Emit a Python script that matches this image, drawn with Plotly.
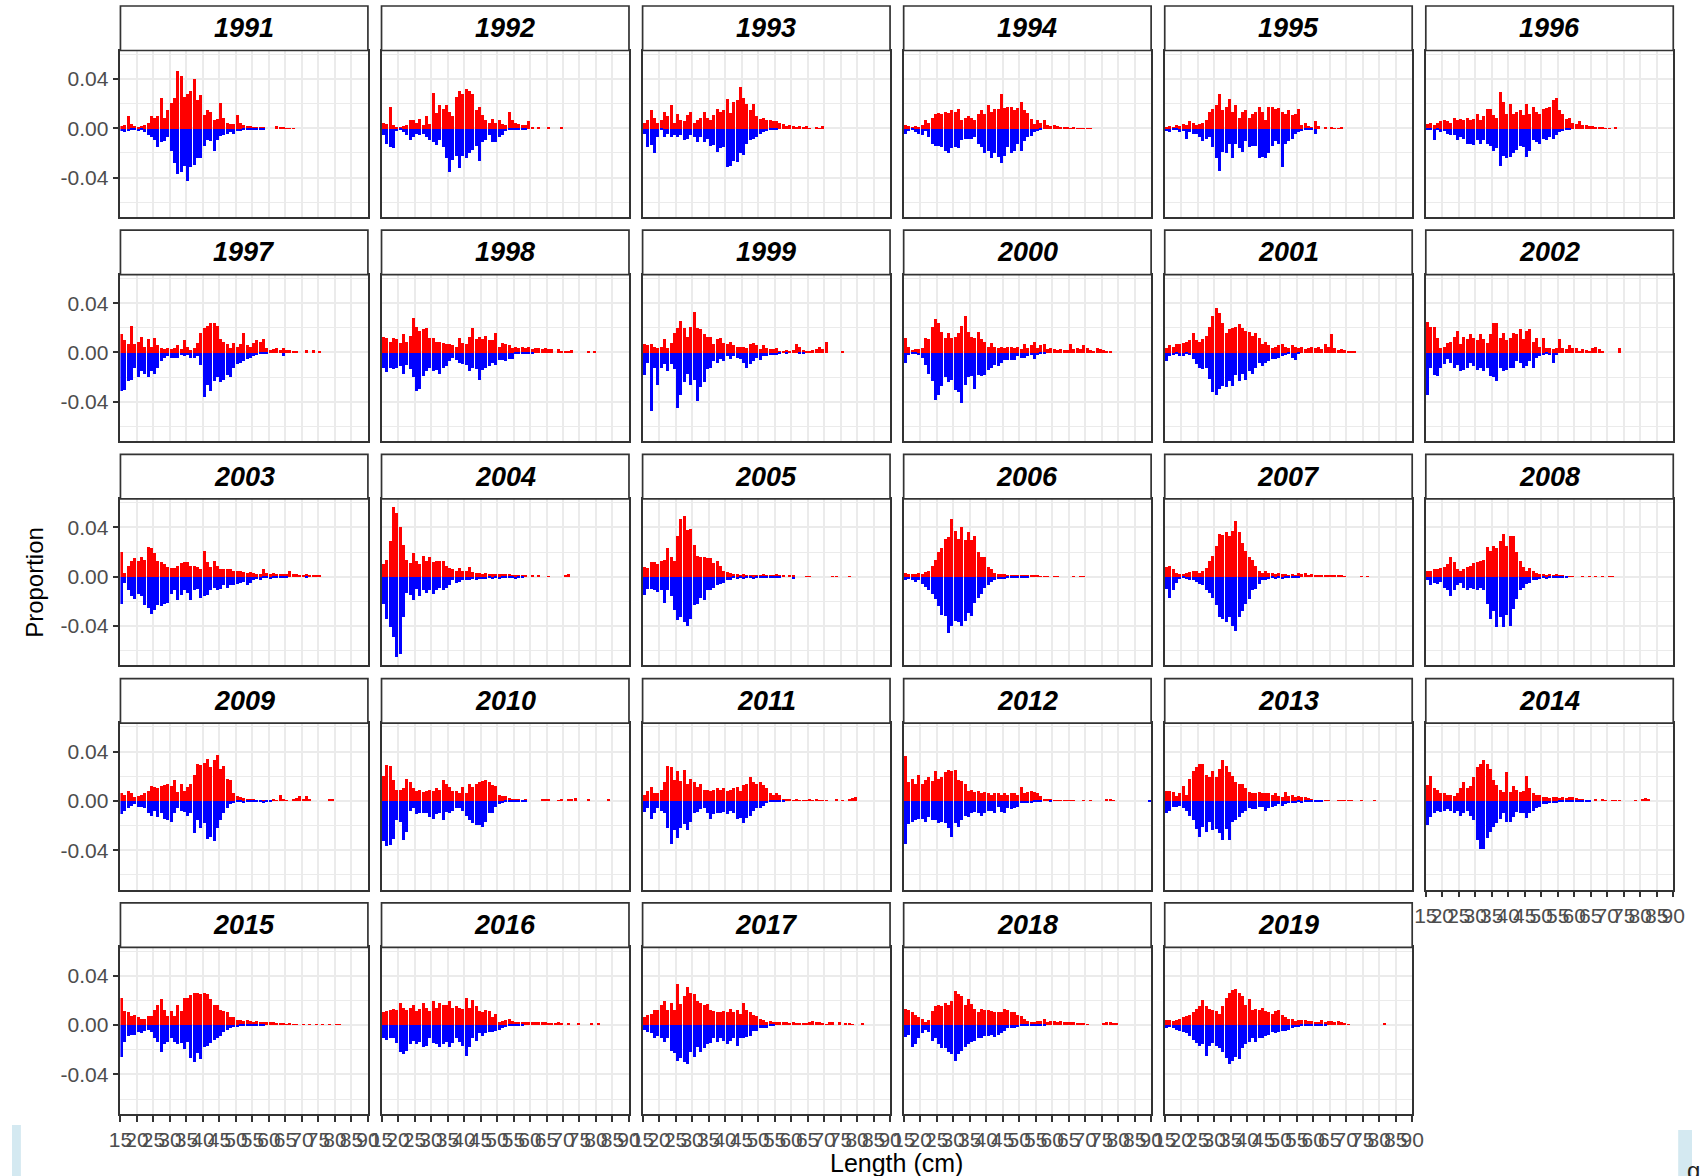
import plotly.graph_objects as go

# proportion at length (x 1000). red = upper bars, blue = lower bars (drawn negative)
# every list starts at the 15 cm bin and steps 1 cm
red_1991 = [2,3,10,4,2,1,2,3,5,10,9,10,25,9,15,21,25,47,43,26,28,31,40,23,27,11,15,14,7,8,21,9,5,4,4,11,5,3,2,2,1,1,1,1,0,0,0,2,1,1,0.5,0.5,0.5]
blue_1991 = [2,3,2,1,1,2,1,3,5,7,9,15,11,10,7,18,28,37,35,30,42,31,29,24,24,14,9,10,18,9,6,5,4,3,4,2,2,1,1,1,1,0.5,0.5,0.5]
red_1992 = [5,4,18,3,1,1,2,3,7,7,5,8,3,10,4,29,13,19,16,19,14,10,26,31,28,32,31,28,15,18,11,7,5,8,5,7,4,3,14,7,5,4,3,3,6,1,0,1,0,0,1,0,0,0,1]
blue_1992 = [5,12,15,16,2,1,3,5,9,7,4,5,4,7,9,11,13,9,15,24,35,25,22,32,22,24,20,17,14,26,11,9,5,11,11,7,5,2,1,1,1,1,0.5,0.5]
red_1993 = [5,7,15,9,5,7,14,10,19,5,12,7,6,11,14,5,7,9,14,9,7,11,16,14,15,24,13,22,23,34,25,20,15,20,10,8,9,7,7,6,6,5,4,2,3,2,1,2,1,2,0.5,0,1,0.5,2]
blue_1993 = [4,15,13,20,7,1,7,4,7,5,7,5,9,8,5,7,11,7,11,8,14,13,19,16,15,31,30,26,27,20,21,12,9,8,7,4,3,2,1,1,0.5]
red_1994 = [3,2,1,2,1,3,7,5,9,12,13,12,14,13,15,14,16,7,9,10,9,7,12,15,12,19,14,16,16,28,17,18,18,15,17,22,15,13,8,4,7,5,7,3,2,3,2,1,1,1,0.5,1,0.5,0.5,0.5,0.5,0.5]
blue_1994 = [4,2,1,3,4,5,2,7,12,14,14,15,18,20,16,15,16,9,8,8,8,7,12,15,20,18,24,20,23,28,22,15,20,18,12,18,10,7,6,3,2,1]
red_1995 = [1,2,1,3,2,4,3,6,5,3,4,5,7,14,16,19,28,15,18,24,14,19,9,14,15,9,12,14,18,14,7,18,18,16,17,14,12,15,11,12,16,3,5,2,1,6,2,0,1,0,1,0.5,0.5,1]
blue_1995 = [2,3,1,1,3,2,8,3,4,4,7,10,8,7,15,24,34,19,20,12,24,12,16,19,10,15,14,14,24,23,24,20,14,10,12,31,12,10,8,4,3,2,1,1,1,4]
red_1996 = [4,5,3,5,6,7,6,5,9,7,8,7,9,7,8,12,7,10,16,16,11,9,30,22,12,20,12,14,15,11,20,12,18,14,12,16,17,18,23,25,15,12,8,9,5,4,6,3,3,2,2,1,1,1,0.5,0.5,0,1]
blue_1996 = [1,1,9,1,3,2,4,5,5,9,7,8,12,12,13,9,12,9,12,14,18,16,30,22,24,23,20,17,14,15,23,18,9,11,12,8,9,7,8,5,3,2,1,1]
red_1997 = [15,10,7,22,7,9,13,5,11,5,12,6,4,3,4,3,4,6,3,10,5,2,4,8,16,20,22,24,24,22,11,9,7,4,8,5,7,16,6,5,8,10,9,11,4,2,3,4,2,4,2,2,1,1,0,0,2,0,2,0,1]
blue_1997 = [31,30,23,22,12,20,15,17,20,15,17,12,7,4,3,4,4,4,2,3,2,4,4,3,10,36,26,31,23,20,24,22,18,20,12,9,8,7,5,4,3,2,1,1,1,0,0,0,0,3]
red_1998 = [13,12,9,12,11,8,15,9,14,28,21,18,19,20,12,12,9,9,8,7,7,6,5,12,8,7,13,20,11,13,11,14,10,10,16,5,8,7,6,4,5,4,5,4,5,3,4,4,3,4,3,3,0,3,1,1,1,2,0,0,0,0,1,0,1]
blue_1998 = [12,16,12,13,12,11,17,10,13,20,31,29,19,15,12,15,14,17,12,11,7,4,6,8,9,10,15,12,13,22,14,12,11,8,10,6,6,7,5,5,1,1,1,1,0.5,0.5]
red_1999 = [7,6,7,5,4,5,11,4,8,16,20,26,20,13,21,33,20,19,15,13,13,7,11,12,8,7,9,6,5,5,5,4,7,8,6,3,6,4,3,3,4,1,1,2,1,2,7,5,2,1,1,2,3,5,3,9,0,0,0,0,1]
blue_1999 = [18,8,47,12,26,12,9,15,9,13,45,34,24,17,26,22,39,28,24,13,12,7,8,5,7,3,5,3,4,5,8,12,9,7,4,6,3,3,2,2,2,1,0,1,0,0,0,1,1]
red_2000 = [12,5,2,3,3,4,12,11,21,27,24,17,12,16,12,13,16,22,30,17,13,12,17,11,9,5,8,5,4,5,4,5,5,4,5,3,7,4,6,9,4,6,7,3,4,3,2,3,2,2,7,3,4,3,6,4,2,1,4,3,2,1,1]
blue_2000 = [8,2,1,1,2,4,10,17,23,38,34,27,20,24,22,30,32,41,26,20,19,29,18,19,18,14,12,10,11,8,6,6,6,6,3,4,4,3,2,5,2,1,1]
red_2001 = [4,6,5,7,7,8,9,10,16,10,9,11,14,21,30,36,32,24,16,19,20,21,23,20,18,17,14,16,12,7,9,6,4,5,6,7,5,4,6,5,4,5,3,4,5,4,5,3,7,5,15,4,2,3,2,1,1,1]
blue_2001 = [7,3,2,1,3,3,1,2,5,9,12,13,12,21,32,34,29,27,28,23,27,18,23,17,22,15,17,12,8,11,8,7,5,5,4,3,2,1,4,6,1]
red_2002 = [25,21,21,12,4,5,8,9,13,18,7,13,11,15,12,10,15,11,8,15,24,24,12,16,10,12,16,15,19,11,18,19,9,12,5,12,4,4,3,4,11,4,3,6,4,4,1,3,2,1,4,5,3,1,0,0,0,0,4]
blue_2002 = [34,12,18,19,12,9,5,8,12,10,15,14,12,8,11,14,12,15,12,19,20,23,12,15,14,12,12,7,8,12,11,7,12,4,3,2,1,2,8,2]
red_2003 = [20,3,9,13,15,13,16,14,24,23,19,13,12,10,8,7,7,9,11,12,12,9,9,8,6,21,12,8,13,9,6,6,6,6,5,5,5,4,3,4,3,2,2,6,3,2,3,2,2,2,2,5,2,2,1,1,2,1,1,1,1]
blue_2003 = [22,5,11,16,18,14,16,23,25,30,27,23,24,22,21,14,11,19,15,11,13,19,11,10,17,16,15,11,9,11,10,7,9,7,7,6,5,4,7,5,3,2,3,1,1,2,1,1,0.5,0.5,0.5,0,0,0,0,0,1]
red_2004 = [10,14,29,57,52,40,26,14,11,19,13,10,17,13,16,12,13,13,13,9,7,6,5,7,5,5,8,4,3,3,2,3,2,2,2,2,2,2,2,1,1,1,1,1,0,1,0,1,0,0,0.5,0,0,0,0,1,2]
blue_2004 = [22,34,41,49,65,63,33,13,15,19,10,16,11,13,11,14,11,9,11,9,7,3,5,4,3,3,3,2,3,2,2,2,1,2,1,2,1,1,1,1,2,1,0.5]
red_2005 = [8,7,12,12,10,13,14,23,16,13,33,47,49,38,39,26,17,16,16,15,15,11,13,9,5,4,3,2,2,1,2,1,1,1,1,1,2,1,1,1,2,1,1,0,1,1,0,0,0,0.5,0.5,0,0,0,0,0,0,0.5,0.5,0,0,0,0.5]
blue_2005 = [15,10,10,11,12,11,21,11,16,27,35,33,37,40,34,23,22,17,19,11,11,9,7,6,5,3,3,1,2,1,2,1,1,2,1,1,1,1,1,0.5,0.5,1,0,0,0,2]
red_2006 = [3,2,2,2,3,2,4,5,9,14,20,23,31,32,47,37,31,40,30,36,30,33,20,16,16,8,6,3,2,2,2,1,1,1,1,1,1,1,1,1,1,0.5,0.5,0.5,0,0.5,0.5,0,0,0,0,0.5,0,0.5,0.5]
blue_2006 = [3,2,3,4,3,6,8,11,14,18,24,31,32,46,40,36,37,40,36,29,32,21,17,14,9,7,4,3,2,2,2,1,1,1,1,1,1,1]
red_2007 = [8,9,6,3,2,2,3,4,5,5,3,5,7,13,17,25,35,34,36,33,37,45,36,27,21,16,14,9,5,3,5,3,3,2,3,2,2,1,2,1,3,2,3,1,2,1,1,1,1,1,1,1,1,1,0.5,0,0,0,0,0.5,0,0.5]
blue_2007 = [10,17,11,5,2,1,2,3,3,4,6,7,11,13,17,23,33,34,37,33,40,44,33,28,22,18,11,10,6,3,3,2,1,2,1,2,1,1,1,1,0.5]
red_2008 = [5,5,6,6,7,8,10,16,12,6,5,6,8,9,11,12,13,14,24,21,25,23,29,35,25,33,33,20,13,8,5,7,5,3,2,2,1,2,1,2,1,1,0.5,0.5,0.5,0,0,0.5,0,0.5,0,0.5,0,0.5,0,0.5,0.5]
blue_2008 = [3,7,5,6,4,9,11,16,11,7,5,9,11,9,10,11,9,11,22,34,28,41,33,41,31,40,26,18,11,9,6,5,3,3,2,1,2,1,1,1,1,1,1]
red_2009 = [6,5,8,6,3,4,5,6,8,12,11,10,12,13,14,12,17,7,14,8,11,14,21,30,29,31,34,27,33,37,26,28,18,17,6,4,3,2,1,1,1,0.5,0.5,0.5,0.5,0.5,1,0.5,5,1,0.5,0,1,2,4,1,4,1,0,0,0,0,0,1,1]
blue_2009 = [11,8,6,4,3,5,5,6,10,12,8,13,10,15,16,17,10,6,8,9,12,10,26,16,22,18,31,29,33,22,16,10,6,3,2,1,1,2,1,1,1,1,1,2,1,0.5]
red_2010 = [20,29,28,17,9,9,10,18,15,10,8,9,7,8,9,8,10,9,17,14,11,8,8,6,11,6,14,11,14,15,16,17,15,13,12,5,4,4,2,1,1,1,0.5,1,0,0,0,0,1,1,1,0,0,0.5,1,0,1,1,2,0,0,0,1,0,0,0,0,0,1]
blue_2010 = [33,37,36,31,16,17,32,25,8,6,11,10,10,10,13,15,11,10,16,9,10,8,6,6,8,12,16,18,20,20,21,17,10,10,5,3,2,1,0.5,1,1,0.5,1,1]
red_2011 = [5,8,11,6,6,9,15,28,27,17,24,16,25,14,18,15,11,14,9,9,8,9,10,9,10,8,9,10,11,8,13,14,19,15,14,15,13,10,6,5,6,5,1,1,1,0.5,1,0.5,0.5,0.5,1,0.5,1,0.5,0.5,0.5,0,0,1,0,0.5,0,1,2,3]
blue_2011 = [9,6,15,10,6,8,10,22,35,24,30,22,19,24,17,10,9,7,6,10,15,11,10,10,9,11,8,10,15,14,18,14,12,8,6,6,4,2,1,1,1,1,1]
red_2012 = [36,15,18,14,21,14,17,19,16,24,18,19,23,25,24,25,17,16,14,8,9,7,8,6,7,6,5,6,6,5,6,5,6,6,5,11,6,7,8,7,6,4,1,1,1,0.5,0.5,0.5,0.5,0.5,0.5,0.5,0,0,0.5,0,0.5,0,0,0,0,1,1,0.5]
blue_2012 = [35,19,17,16,15,15,17,13,16,16,18,17,18,22,29,18,21,16,12,13,10,9,10,12,10,8,8,10,5,9,10,6,7,6,5,2,2,2,2,1,0.5,0.5,0,0,0.5,
             0,0,0,0,0,0,0,0,0,0,0,0,0,0,0,0,0,0,0,0,0,0,0,0,0,0,0,0,0,1]
red_2013 = [8,8,7,4,6,12,5,18,24,27,30,30,21,19,24,19,26,33,28,23,20,15,14,14,10,7,6,6,7,6,6,6,5,6,4,3,7,4,5,3,4,3,3,2,1,0.5,0.5,0.5,0.5,0.5,0,0,0.5,0.5,0.5,0.5,0.5,0,0,0.5,0,0,0,0.5]
blue_2013 = [10,8,5,5,4,6,8,12,16,23,29,21,25,17,24,23,26,32,23,32,17,16,13,10,8,6,7,7,5,5,8,6,5,4,3,4,3,2,2,2,1,2,1,1,1,0.5,0.5,0.5]
red_2014 = [13,20,10,9,6,6,5,5,4,6,10,15,10,12,19,27,30,33,30,26,17,13,9,7,23,7,12,9,7,8,20,10,6,5,5,3,3,2,3,3,2,3,2,3,3,2,1,1,0,0,0,1,0,1,0.5,0,0.5,0.5,0.5,0,0,0,0,0.5,0,1,2,1]
blue_2014 = [20,13,10,8,9,8,7,8,10,8,12,10,8,12,16,32,39,39,30,25,21,18,15,10,17,17,13,9,10,10,14,10,8,6,5,3,3,2,2,2,1,1,1,1,1,0.5,0.5,0.5,0.5,1]
red_2015 = [22,11,10,7,8,6,5,5,7,7,12,16,21,12,7,11,7,16,11,22,22,24,26,26,25,26,25,21,16,16,12,11,10,6,6,4,4,3,4,3,2,3,2,2,2,2,2,1,1,1,0.5,1,0.5,0.5,0,0.5,0,0.5,0,0.5,0,0.5,0,0.5,0,0.5,0.5]
blue_2015 = [26,14,9,8,8,6,7,5,4,6,11,14,22,16,14,11,14,16,15,20,14,27,30,23,28,18,17,15,12,11,9,6,4,3,2,2,1,1,1,1,1,1,1,0.5]
red_2016 = [10,11,12,13,12,18,14,12,14,16,11,13,18,14,11,19,14,18,16,16,19,14,15,14,13,22,14,20,15,11,10,12,11,6,9,2,3,4,5,3,2,2,2,2,2,2,2,2,2,2,1,1,1,2,1,0,1,0,0,1,0,0,0,1,0,1]
blue_2016 = [11,12,11,11,15,22,24,21,16,13,16,14,18,17,11,15,16,18,16,14,18,15,11,14,17,25,18,11,13,7,9,7,6,6,5,4,3,2,1,1,1,0.5,0.5]
red_2017 = [6,8,9,12,12,16,19,12,18,12,33,17,23,31,26,25,19,18,16,17,12,11,10,10,11,10,13,10,12,9,18,12,10,8,7,5,4,2,3,2,2,2,2,2,1,2,1,1,1,1,2,3,2,2,1,0.5,2,2,0,2,0,1,1,0.5,0,0,1]
blue_2017 = [4,6,7,11,9,11,14,11,21,23,29,27,30,32,22,26,18,22,19,16,15,11,14,11,13,16,13,11,17,11,11,10,9,5,5,3,3,3,1,1]
red_2018 = [13,12,10,8,6,5,2,4,11,15,16,15,18,16,19,27,25,23,16,21,17,13,10,13,12,12,11,10,10,10,13,12,10,10,8,7,5,3,2,2,3,3,5,2,3,3,2,3,2,2,2,2,1,1,1,0.5,0,0,0,0,1,2,2,1,1]
blue_2018 = [10,8,18,16,11,7,4,6,13,11,16,19,19,22,24,29,24,21,18,16,14,13,11,11,9,9,8,10,8,7,5,3,3,3,2,1,1,1,1,1,1,1,1]
red_2019 = [4,4,3,4,5,6,7,8,10,13,15,20,15,13,12,11,9,15,22,26,28,29,26,23,16,21,12,13,12,14,11,10,9,11,12,8,6,5,5,3,4,4,4,3,3,2,2,4,2,3,3,2,3,2,1,0.5,0,0,0,0,0,0,0,0,0,0,1]
blue_2019 = [3,2,3,4,5,6,7,9,12,15,17,16,25,17,15,17,19,22,27,32,29,26,28,19,16,14,11,14,11,11,9,8,6,7,6,5,5,4,3,2,2,1,1,1,0.5,0.5,0.5,0.5,0.5]

years = list(range(1991, 2020))
red_series = [red_1991, red_1992, red_1993, red_1994, red_1995, red_1996, red_1997, red_1998,
              red_1999, red_2000, red_2001, red_2002, red_2003, red_2004, red_2005, red_2006,
              red_2007, red_2008, red_2009, red_2010, red_2011, red_2012, red_2013, red_2014,
              red_2015, red_2016, red_2017, red_2018, red_2019]
blue_series = [blue_1991, blue_1992, blue_1993, blue_1994, blue_1995, blue_1996, blue_1997, blue_1998,
               blue_1999, blue_2000, blue_2001, blue_2002, blue_2003, blue_2004, blue_2005, blue_2006,
               blue_2007, blue_2008, blue_2009, blue_2010, blue_2011, blue_2012, blue_2013, blue_2014,
               blue_2015, blue_2016, blue_2017, blue_2018, blue_2019]
lengths = list(range(15, 90))
x_ticks = list(range(15, 95, 5))
y_ticks = [-0.04, 0.0, 0.04]
y_tick_text = ["-0.04", "0.00", "0.04"]
y_minor = [-0.06, -0.02, 0.02, 0.06]

W, H = 1704, 1176
LEFT0, PITCH_X, PANEL_W = 110, 264.8, 251
TOP0, PITCH_Y, PANEL_H, STRIP_H = 50.5, 224.2, 166.5, 44.5
FONT = "Liberation Sans"
GRID = "#EBEBEB"
FRAME = "#333333"

fig = go.Figure()
layout = {}
shapes = []
annotations = []

for i, yr in enumerate(years):
    r, c = divmod(i, 6)
    k = i + 1
    xname = "xaxis" if k == 1 else f"xaxis{k}"
    yname = "yaxis" if k == 1 else f"yaxis{k}"
    xref = "x" if k == 1 else f"x{k}"
    yref = "y" if k == 1 else f"y{k}"

    red = [v / 1000 for v in red_series[i]]
    blue = [-v / 1000 for v in blue_series[i]]
    fig.add_trace(go.Bar(x=lengths[:len(red)], y=red, width=0.9, offset=0.05,
                         marker=dict(color="#FF0000", line=dict(width=0)),
                         xaxis=xref, yaxis=yref, showlegend=False, hoverinfo="skip"))
    fig.add_trace(go.Bar(x=lengths[:len(blue)], y=blue, width=0.9, offset=0.05,
                         marker=dict(color="#0000FF", line=dict(width=0)),
                         xaxis=xref, yaxis=yref, showlegend=False, hoverinfo="skip"))

    px0 = LEFT0 + c * PITCH_X
    px1 = px0 + PANEL_W
    top = TOP0 + r * PITCH_Y
    bottom = top + PANEL_H
    x0, x1 = px0 / W, px1 / W
    y0, y1 = 1 - bottom / H, 1 - top / H

    show_x = r == 4 or yr == 2014
    show_y = c == 0

    layout[xname] = dict(
        domain=[x0, x1], anchor=yref, range=[15, 90], fixedrange=True,
        tickmode="array", tickvals=x_ticks, ticktext=[str(t) for t in x_ticks],
        showticklabels=show_x, tickangle=0,
        ticks="outside" if show_x else "", ticklen=6, tickwidth=1.5, tickcolor=FRAME,
        tickfont=dict(family=FONT, size=21, color="#4D4D4D"),
        showgrid=True, gridcolor=GRID, gridwidth=1.5, zeroline=False,
        showline=True, mirror=True, linecolor=FRAME, linewidth=1.7,
    )
    layout[yname] = dict(
        domain=[y0, y1], anchor=xref, range=[-0.0720, 0.0631], fixedrange=True,
        tickmode="array", tickvals=y_ticks, ticktext=y_tick_text,
        showticklabels=show_y,
        ticks="outside" if show_y else "", ticklen=6, tickwidth=1.5, tickcolor=FRAME,
        tickfont=dict(family=FONT, size=21, color="#4D4D4D"),
        showgrid=True, gridcolor=GRID, gridwidth=1.6, zeroline=False,
        minor=dict(tickvals=y_minor, showgrid=True, gridcolor=GRID, gridwidth=1.0, ticks=""),
        showline=True, mirror=True, linecolor=FRAME, linewidth=1.7,
    )

    # facet strip
    shapes.append(dict(type="rect", xref="paper", yref="paper",
                       x0=x0, x1=x1, y0=y1, y1=1 - (top - STRIP_H) / H,
                       fillcolor="white", line=dict(color=FRAME, width=1.7), layer="above"))
    annotations.append(dict(text=f"<b><i>{yr}</i></b>", xref="paper", yref="paper",
                            x=(x0 + x1) / 2, y=1 - (top - STRIP_H / 2) / H,
                            xanchor="center", yanchor="middle", showarrow=False,
                            font=dict(family=FONT, size=27, color="black")))

annotations.append(dict(text="Length (cm)", xref="paper", yref="paper",
                        x=(LEFT0 + 5 * PITCH_X + PANEL_W + LEFT0) / 2 / W, y=1 - 1163 / H,
                        xanchor="center", yanchor="middle", showarrow=False,
                        font=dict(family=FONT, size=25, color="black")))
annotations.append(dict(text="Proportion", xref="paper", yref="paper",
                        x=22 / W, y=1 - (TOP0 + 4 * PITCH_Y + PANEL_H + TOP0) / 2 / H,
                        xanchor="center", yanchor="middle", textangle=-90, showarrow=False,
                        font=dict(family=FONT, size=24, color="black")))
# clipped letter at the lower right edge of the screenshot
annotations.append(dict(text="g", xref="paper", yref="paper", x=1697 / W, y=1 - 1170 / H,
                        xanchor="left", yanchor="middle", showarrow=False,
                        font=dict(family=FONT, size=24, color="#222222")))

# light slide-background slivers visible at the lower corners of the screenshot
shapes.append(dict(type="rect", xref="paper", yref="paper", x0=0, x1=9 / W, y0=0, y1=1 - 1125 / H,
                   fillcolor="#D4E9F1", line=dict(width=0), layer="below"))
shapes.append(dict(type="rect", xref="paper", yref="paper", x0=1690 / W, x1=1, y0=0, y1=1 - 1130 / H,
                   fillcolor="#D4E9F1", line=dict(width=0), layer="below"))

fig.update_layout(
    width=W, height=H, autosize=False,
    margin=dict(l=0, r=0, t=0, b=0),
    paper_bgcolor="white", plot_bgcolor="white",
    barmode="relative", bargap=0,
    shapes=shapes, annotations=annotations,
    **layout,
)

fig.write_html("out.html", config={"displayModeBar": False},
               post_script="document.body.style.margin='0';document.body.style.overflow='hidden';")
